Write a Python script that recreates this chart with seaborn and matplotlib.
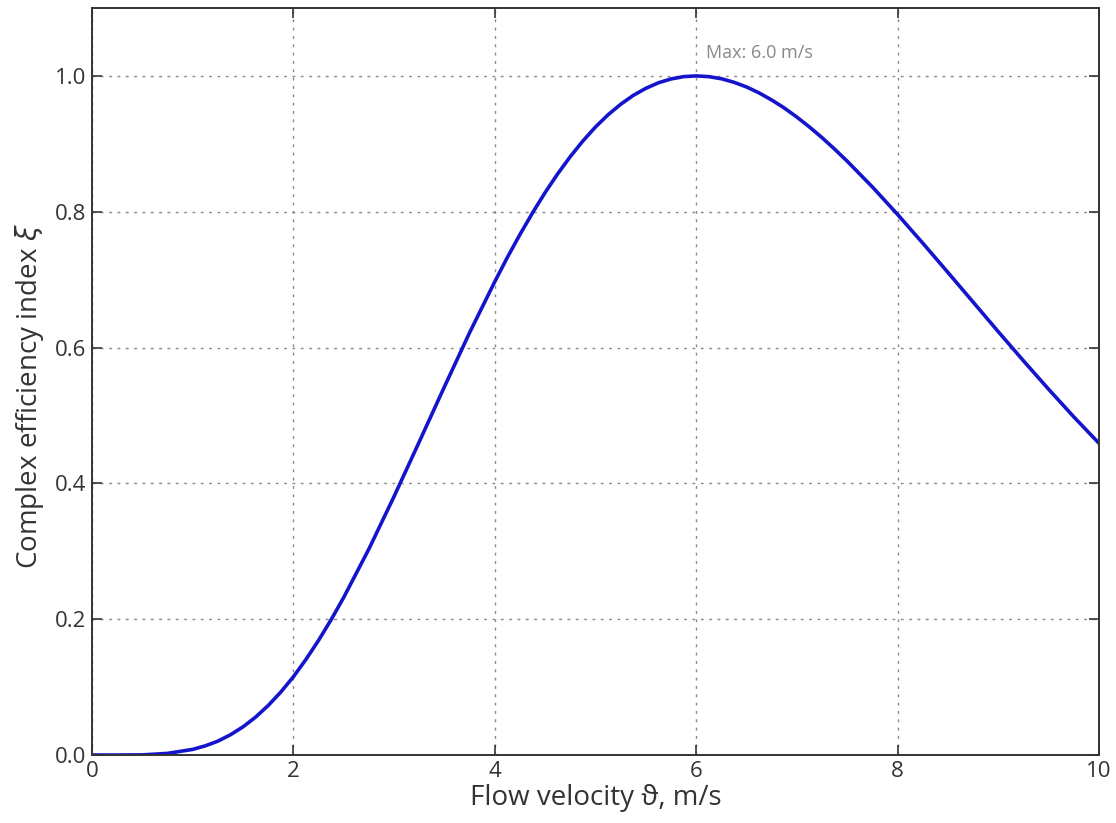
import matplotlib
matplotlib.use("Agg")
import matplotlib.pyplot as plt
import seaborn as sns
import pandas as pd

# Values
velocity = [0.0, 0.25, 0.5, 0.75, 1.0, 1.125, 1.25, 1.375, 1.5, 1.625, 1.75, 1.875,
            2.0, 2.125, 2.25, 2.375, 2.5, 2.75,
            3.0, 3.25, 3.5, 3.75, 4.0, 4.125, 4.25, 4.375, 4.5, 4.625, 4.75, 4.875,
            5.0, 5.125, 5.25, 5.375, 5.5, 5.625, 5.75, 5.875,
            6.0, 6.125, 6.25, 6.375, 6.5, 6.625, 6.75, 6.875,
            7.0, 7.125, 7.25, 7.375, 7.5, 7.75, 8.0, 8.25, 8.5, 8.75,
            9.0, 9.25, 9.5, 9.75, 10.0]
efficiency = [0.0, 0.0, 0.0002, 0.0024, 0.0083, 0.0135, 0.0204, 0.0298, 0.0415, 0.0558,
              0.0729, 0.0927,
              0.1152, 0.1408, 0.1688, 0.1993, 0.2321, 0.3034,
              0.3808, 0.4612, 0.5423, 0.6220, 0.6970, 0.7328, 0.7665, 0.7984,
              0.8283, 0.8559, 0.8812, 0.9042,
              0.9248, 0.9428, 0.9582, 0.9713, 0.9817, 0.9899, 0.9955, 0.9989,
              1.0, 0.9989, 0.9958, 0.9906, 0.9837, 0.9749, 0.9645, 0.9527,
              0.9393, 0.9247, 0.9090, 0.8921, 0.8743, 0.8364, 0.7959, 0.7537,
              0.7105, 0.6669, 0.6233, 0.5804, 0.5385, 0.4978, 0.4590]
x_ticks = [0, 2, 4, 6, 8, 10]
y_ticks = [0.0, 0.2, 0.4, 0.6, 0.8, 1.0]
peak_label = "Max: 6.0 m/s"
peak_x = 6.0
peak_y = 1.0

df = pd.DataFrame({"v": velocity, "xi": efficiency})

sns.set_theme(style="ticks")
plt.rcParams['font.family'] = ['Open Sans', 'DejaVu Sans']
plt.rcParams['mathtext.fontset'] = 'dejavusans'

fig = plt.figure(figsize=(11.16, 8.23), dpi=100)
ax = fig.add_axes([0.0824, 0.0826, 0.9024, 0.9077])

sns.lineplot(data=df, x="v", y="xi", ax=ax, color="#1414cc", linewidth=2.6)

ax.set_xlim(0, 10)
ax.set_ylim(0, 1.1)
ax.set_xticks(x_ticks)
ax.set_xticklabels([str(t) for t in x_ticks])
ax.set_yticks(y_ticks)
ax.set_yticklabels([f"{t:.1f}" for t in y_ticks])

ax.grid(True, color="#888888", linestyle=(0, (2, 4)), linewidth=1.0)
for s in ax.spines.values():
    s.set_visible(True)
    s.set_color("#333333")
    s.set_linewidth(1.4)
ax.tick_params(direction="in", length=7, width=1.2, colors="#333333",
               labelsize=16, labelcolor="#333333", top=True, right=True, pad=4)

ax.set_xlabel("Flow velocity ϑ, m/s", fontsize=20, color="#333333", labelpad=2)
ax.set_ylabel(r"Complex efficiency index $\xi$", fontsize=20, color="#333333")
ax.yaxis.set_label_coords(-0.046, 0.48)

ax.text(peak_x + 0.1, peak_y + 0.02, peak_label, fontsize=13, color="#888888",
        ha="left", va="bottom")

fig.savefig("out.png", dpi=100)
